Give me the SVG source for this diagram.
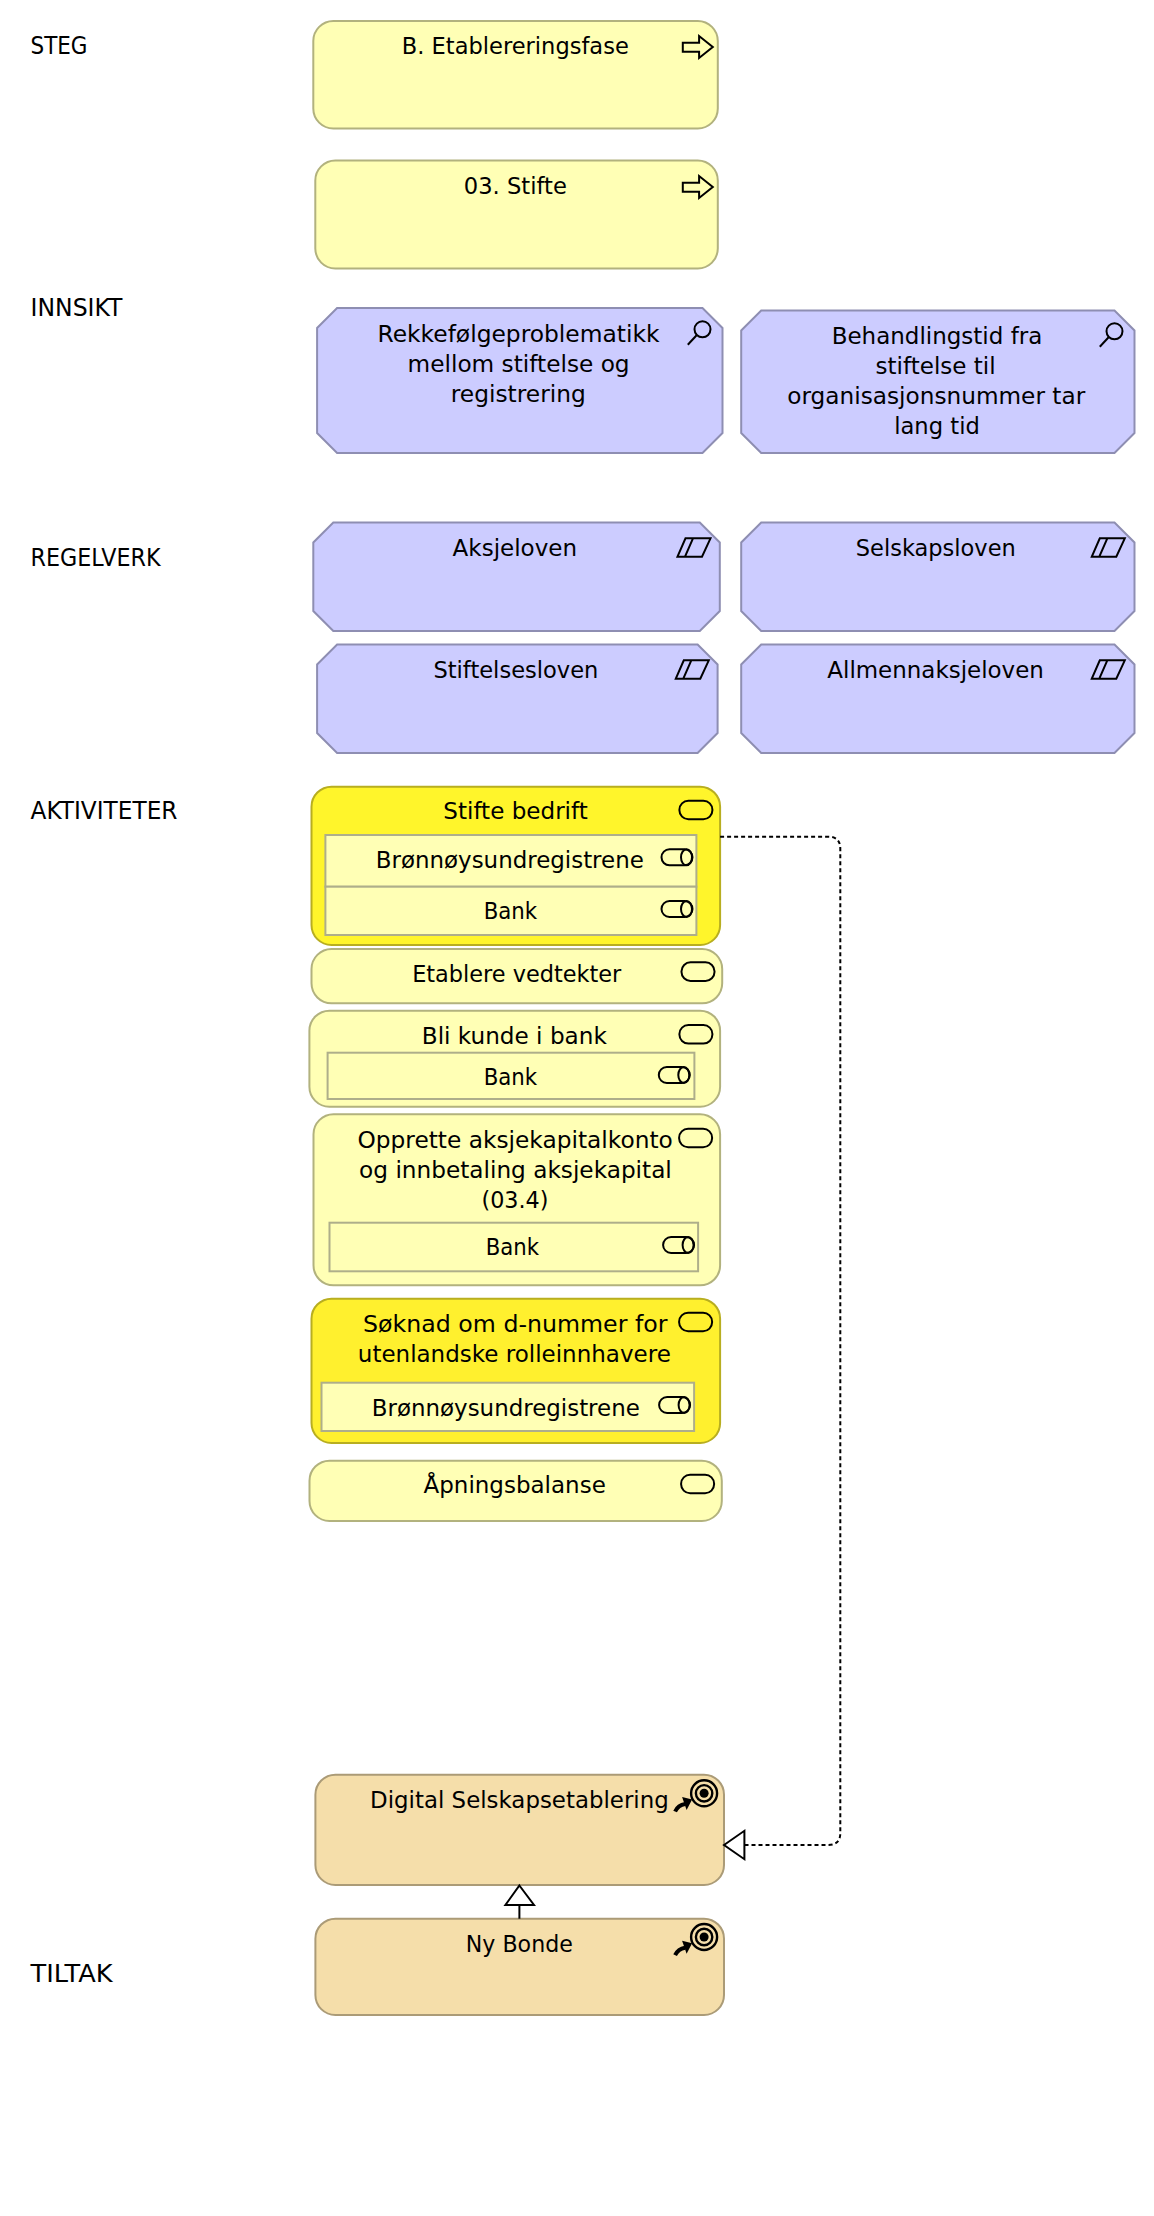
<svg xmlns="http://www.w3.org/2000/svg" width="1154" height="2216" viewBox="0 0 1154 2216">
<style>
text{font-family:"DejaVu Sans","Liberation Sans",sans-serif;font-size:23.5px;fill:#000}
.lab{font-size:24px}
.y{fill:#FFFFB5;stroke:#B2B27E;stroke-width:2}
.h1{fill:#FFF52B;stroke:#B8AE20;stroke-width:2}
.h2{fill:#FFF02E;stroke:#B8AE20;stroke-width:2}
.b{fill:#CCCCFF;stroke:#8E8EB2;stroke-width:2}
.o{fill:#F5DEAA;stroke:#AB9B77;stroke-width:2}
.in{fill:#FFFFB5;stroke:#AEAE8A;stroke-width:2}
.i{fill:none;stroke:#000;stroke-width:2}
.iw{fill:#fff;stroke:#000;stroke-width:2}
</style>
<defs>
<path id="arr" class="i" d="M0 6.700H16.300V0L30 11L16.300 22V15.700H0Z"/>
<g id="mag"><circle class="i" cx="15.700" cy="8.600" r="8"/><path class="i" d="M9.800 14.500L1 24"/></g>
<path id="para" class="i" d="M0 18.400L8 0H33L24.500 18.400ZM7.500 18.400L15.500 0"/>
<rect id="pill" class="i" x="0" y="0" width="33" height="18.600" rx="9" ry="9"/>
<g id="actor"><rect class="i" x="0" y="0" width="31" height="16" rx="8" ry="8"/><ellipse class="i" cx="25" cy="8" rx="5.500" ry="8"/></g>
<g id="target"><circle class="i" cx="-1" cy="-0.700" r="13" style="stroke-width:2.400"/><circle class="i" cx="-1" cy="-0.700" r="8.200" style="stroke-width:2.400"/><circle fill="#000" cx="-1" cy="-0.700" r="4.500"/><path class="i" style="stroke-width:4" d="M-30 17.500Q-27 11 -20 10"/><path fill="#000" d="M-13 5.500L-23 3L-18.500 16Z"/></g>
</defs>

<g id="labels">
<text class="lab" x="30.500" y="54" textLength="57" lengthAdjust="spacingAndGlyphs">STEG</text>
<text class="lab" x="30.500" y="316" textLength="92" lengthAdjust="spacingAndGlyphs">INNSIKT</text>
<text class="lab" x="30.500" y="565.700" textLength="130" lengthAdjust="spacingAndGlyphs">REGELVERK</text>
<text class="lab" x="30.500" y="819.300" textLength="147" lengthAdjust="spacingAndGlyphs">AKTIVITETER</text>
<text class="lab" x="30.500" y="1981.700" textLength="82" lengthAdjust="spacingAndGlyphs">TILTAK</text>
</g>

<g id="diagram" transform="translate(0.800 0)">
<g id="node-etablering">
<rect class="y" x="312.500" y="21" width="404.500" height="107.500" rx="20"/>
<text x="401" y="54.300" textLength="227" lengthAdjust="spacingAndGlyphs">B. Etablereringsfase</text>
<use href="#arr" x="682" y="36"/>
</g>
<g id="node-stifte">
<rect class="y" x="314.500" y="160.500" width="402.500" height="108" rx="20"/>
<text x="463" y="194.300" textLength="103" lengthAdjust="spacingAndGlyphs">03. Stifte</text>
<use href="#arr" x="682" y="176"/>
</g>

<g id="node-rekkefolge">
<path class="b" d="M336.300 308H701.700L721.700 328V433L701.700 453H336.300L316.300 433V328Z"/>
<text x="376.700" y="342.300" textLength="282" lengthAdjust="spacingAndGlyphs">Rekkefølgeproblematikk</text>
<text x="406.800" y="372" textLength="222" lengthAdjust="spacingAndGlyphs">mellom stiftelse og</text>
<text x="450" y="402" textLength="135" lengthAdjust="spacingAndGlyphs">registrering</text>
<use href="#mag" x="686" y="320.700"/>
</g>
<g id="node-behandlingstid">
<path class="b" d="M760.400 310.500H1113.700L1133.700 330.500V433L1113.700 453H760.400L740.400 433V330.500Z"/>
<text x="830.900" y="343.700" textLength="210.600" lengthAdjust="spacingAndGlyphs">Behandlingstid fra</text>
<text x="874.800" y="374" textLength="120" lengthAdjust="spacingAndGlyphs">stiftelse til</text>
<text x="786.400" y="404" textLength="298" lengthAdjust="spacingAndGlyphs">organisasjonsnummer tar</text>
<text x="893.400" y="434" textLength="85.600" lengthAdjust="spacingAndGlyphs">lang tid</text>
<use href="#mag" x="1098" y="322.700"/>
</g>

<g id="node-aksjeloven">
<path class="b" d="M332.500 522.500H699L719 542.500V611L699 631H332.500L312.500 611V542.500Z"/>
<text x="451.800" y="556" textLength="124.500" lengthAdjust="spacingAndGlyphs">Aksjeloven</text>
<use href="#para" x="676.700" y="538.300"/>
</g>
<g id="node-selskapsloven">
<path class="b" d="M760.400 522.500H1113.700L1133.700 542.500V611L1113.700 631H760.400L740.400 611V542.500Z"/>
<text x="855" y="556" textLength="160" lengthAdjust="spacingAndGlyphs">Selskapsloven</text>
<use href="#para" x="1091" y="538.300"/>
</g>
<g id="node-stiftelsesloven">
<path class="b" d="M336.300 644.500H696.800L716.800 664.500V733L696.800 753H336.300L316.300 733V664.500Z"/>
<text x="432.600" y="677.700" textLength="165" lengthAdjust="spacingAndGlyphs">Stiftelsesloven</text>
<use href="#para" x="675" y="660.300"/>
</g>
<g id="node-allmennaksjeloven">
<path class="b" d="M760.400 644.500H1113.700L1133.700 664.500V733L1113.700 753H760.400L740.400 733V664.500Z"/>
<text x="826.500" y="677.700" textLength="216.500" lengthAdjust="spacingAndGlyphs">Allmennaksjeloven</text>
<use href="#para" x="1091" y="660.300"/>
</g>

<g id="node-stifte-bedrift">
<rect class="h1" x="310.700" y="786.700" width="408.600" height="158.300" rx="20"/>
<text x="442.500" y="819.300" textLength="144.500" lengthAdjust="spacingAndGlyphs">Stifte bedrift</text>
<use href="#pill" x="678.600" y="800.700"/>
</g>
<g id="node-bronnoy-1">
<rect class="in" x="324.600" y="835" width="371" height="51.700"/>
<text x="375" y="867.700" textLength="268" lengthAdjust="spacingAndGlyphs">Brønnøysundregistrene</text>
<use href="#actor" x="660.700" y="849.300"/>
</g>
<g id="node-bank-1">
<rect class="in" x="324.600" y="886.700" width="371" height="48.300"/>
<text x="482.900" y="919.300" textLength="53.500" lengthAdjust="spacingAndGlyphs">Bank</text>
<use href="#actor" x="660.700" y="901"/>
</g>

<g id="node-vedtekter">
<rect class="y" x="310.700" y="949" width="410.700" height="54.300" rx="20"/>
<text x="411.400" y="981.700" textLength="209" lengthAdjust="spacingAndGlyphs">Etablere vedtekter</text>
<use href="#pill" x="680.700" y="962.300"/>
</g>

<g id="node-bli-kunde">
<rect class="y" x="308.600" y="1010.700" width="410.700" height="96" rx="20"/>
<text x="421" y="1043.700" textLength="185" lengthAdjust="spacingAndGlyphs">Bli kunde i bank</text>
<use href="#pill" x="678.600" y="1025"/>
</g>
<g id="node-bank-2">
<rect class="in" x="326.800" y="1052.700" width="366.800" height="46.300"/>
<text x="482.900" y="1085" textLength="53.500" lengthAdjust="spacingAndGlyphs">Bank</text>
<use href="#actor" x="658" y="1067"/>
</g>

<g id="node-opprette">
<rect class="y" x="312.700" y="1114.300" width="406.600" height="171" rx="20"/>
<text x="356.700" y="1147.700" textLength="315.300" lengthAdjust="spacingAndGlyphs">Opprette aksjekapitalkonto</text>
<text x="358.300" y="1177.700" textLength="312.700" lengthAdjust="spacingAndGlyphs">og innbetaling aksjekapital</text>
<text x="480.700" y="1207.700" textLength="67" lengthAdjust="spacingAndGlyphs">(03.4)</text>
<use href="#pill" x="678.300" y="1128.700"/>
</g>
<g id="node-bank-3">
<rect class="in" x="328.700" y="1222.700" width="368.600" height="48.600"/>
<text x="485" y="1255.300" textLength="53.300" lengthAdjust="spacingAndGlyphs">Bank</text>
<use href="#actor" x="662.300" y="1237"/>
</g>

<g id="node-soknad">
<rect class="h2" x="310.700" y="1298.700" width="408.600" height="144.300" rx="20"/>
<text x="362.300" y="1331.700" textLength="304.400" lengthAdjust="spacingAndGlyphs">Søknad om d-nummer for</text>
<text x="357" y="1362" textLength="313" lengthAdjust="spacingAndGlyphs">utenlandske rolleinnhavere</text>
<use href="#pill" x="678.300" y="1312.700"/>
</g>
<g id="node-bronnoy-2">
<rect class="in" x="320.700" y="1382.700" width="372.600" height="48.300"/>
<text x="371" y="1415.700" textLength="268" lengthAdjust="spacingAndGlyphs">Brønnøysundregistrene</text>
<use href="#actor" x="658.300" y="1397"/>
</g>

<g id="node-apning">
<rect class="y" x="308.700" y="1460.700" width="412.300" height="60.300" rx="20"/>
<text x="422.700" y="1493.300" textLength="182.300" lengthAdjust="spacingAndGlyphs">Åpningsbalanse</text>
<use href="#pill" x="680.300" y="1474.700"/>
</g>

<g id="node-digital">
<rect class="o" x="314.600" y="1774.700" width="408.600" height="110.300" rx="20"/>
<text x="369.300" y="1807.700" textLength="298.600" lengthAdjust="spacingAndGlyphs">Digital Selskapsetablering</text>
<use href="#target" x="704.300" y="1794"/>
</g>
<g id="node-ny-bonde">
<rect class="o" x="314.600" y="1918.700" width="408.600" height="96.300" rx="20"/>
<text x="465" y="1951.700" textLength="107" lengthAdjust="spacingAndGlyphs">Ny Bonde</text>
<use href="#target" x="704.300" y="1937.700"/>
</g>

<g id="connectors">
<path fill="none" stroke="#000" stroke-width="2" stroke-dasharray="4 3" d="M719.300 836.700H827.500Q839.500 836.700 839.500 848.700V1833Q839.500 1845 827.500 1845H743.600"/>
<path class="iw" d="M723.200 1845L743.600 1830.800V1859.200Z"/>
<path fill="none" stroke="#000" stroke-width="2" d="M518.600 1905V1918.700"/>
<path class="iw" d="M518.600 1885.500L533.200 1905H504.600Z"/>
</g>
</g>
</svg>
